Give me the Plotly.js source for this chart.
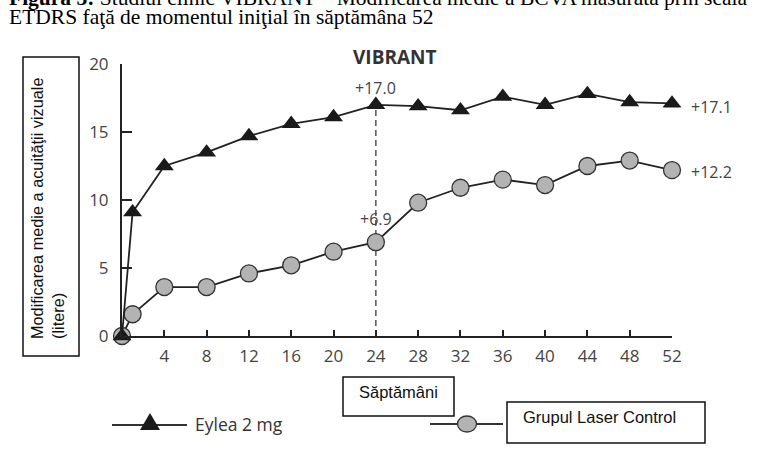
<!DOCTYPE html>
<html>
<head>
<meta charset="utf-8">
<script src="https://cdn.plot.ly/plotly-3.0.1.min.js"></script>
<style>html,body{margin:0;padding:0;background:#fff;}#chart{width:766px;height:471px;}</style>
</head>
<body>
<div id="chart"></div>
<script>
// ---- data ----
var weeks = [0, 1, 4, 8, 12, 16, 20, 24, 28, 32, 36, 40, 44, 48, 52];
var eylea = [0, 9.1, 12.5, 13.5, 14.7, 15.6, 16.1, 17.0, 16.9, 16.6, 17.6, 17.0, 17.8, 17.2, 17.1];
var laser = [0, 1.6, 3.6, 3.6, 4.6, 5.2, 6.2, 6.9, 9.8, 10.9, 11.5, 11.1, 12.5, 12.9, 12.2];
var xTicks = [4, 8, 12, 16, 20, 24, 28, 32, 36, 40, 44, 48, 52];
var yTicks = [0, 5, 10, 15, 20];
var seriesNames = ["Eylea 2 mg", "Grupul Laser Control"];
var chartTitle = "VIBRANT";
var yTitleLines = ["Modificarea medie a acuităţii vizuale", "(litere)"];
var xTitle = "Săptămâni";
var captionLine1 = "<b>Figura 3:</b> Studiul clinic VIBRANT – Modificarea medie a BCVA măsurată prin scala";
var captionLine2 = "ETDRS faţă de momentul iniţial în săptămâna 52";
var markWeek = 24;

// ---- helpers (pixel -> paper) ----
var W = 766, H = 471;
function px(x) { return x / W; }
function py(y) { return 1 - y / H; }

var boxFont = "Liberation Sans, Arial, sans-serif";
var sans = "Open Sans, Noto Sans, sans-serif";
var serif = "Liberation Serif, Times New Roman, serif";

var iE = weeks.indexOf(markWeek);
var last = weeks.length - 1;

var traces = [
  {
    x: weeks, y: laser, type: "scatter", mode: "lines+markers", name: seriesNames[1],
    line: {color: "#222", width: 1.8},
    marker: {symbol: "circle", size: 17, color: "#b3b3b3", line: {color: "#333", width: 1.3}},
    cliponaxis: false, showlegend: false
  },
  {
    x: weeks, y: eylea, type: "scatter", mode: "lines+markers", name: seriesNames[0],
    line: {color: "#222", width: 1.8},
    marker: {symbol: "triangle-up", size: 16.5, color: "#1a1a1a", line: {width: 0}},
    cliponaxis: false, showlegend: false
  }
];

var shapes = [
  {type: "line", xref: "x", yref: "y", x0: markWeek, x1: markWeek, y0: 0, y1: eylea[iE],
   line: {color: "#555", width: 1.5, dash: "6px,4px"}, layer: "below"},
  {type: "rect", xref: "paper", yref: "paper", x0: px(23), x1: px(79), y0: py(356), y1: py(57),
   line: {color: "#111", width: 1.5}},
  {type: "rect", xref: "paper", yref: "paper", x0: px(343), x1: px(454), y0: py(416), y1: py(377),
   line: {color: "#111", width: 1.5}},
  {type: "rect", xref: "paper", yref: "paper", x0: px(507), x1: px(705), y0: py(443), y1: py(402),
   line: {color: "#111", width: 1.5}},
  {type: "line", xref: "paper", yref: "paper", x0: px(112), x1: px(187), y0: py(425), y1: py(425),
   line: {color: "#333", width: 2}},
  {type: "line", xref: "paper", yref: "paper", x0: px(430), x1: px(503), y0: py(424), y1: py(424),
   line: {color: "#333", width: 2}},
  {type: "path", xref: "paper", yref: "paper",
   path: "M " + px(150) + "," + py(413) + " L " + px(160) + "," + py(430) + " L " + px(140) + "," + py(430) + " Z",
   fillcolor: "#1a1a1a", line: {width: 0}},
  {type: "circle", xref: "paper", yref: "paper", x0: px(457.5), x1: px(476.5), y0: py(432), y1: py(416),
   fillcolor: "#b3b3b3", line: {color: "#333", width: 1.3}}
];

var annotations = [
  {text: captionLine1, xref: "paper", yref: "paper", x: px(7), y: py(-1.5), xanchor: "left", yanchor: "middle",
   showarrow: false, font: {family: serif, size: 21.5, color: "#000"}},
  {text: captionLine2, xref: "paper", yref: "paper", x: px(7), y: py(17.5), xanchor: "left", yanchor: "middle",
   showarrow: false, font: {family: serif, size: 21.5, color: "#000"}},
  {text: "<b>" + chartTitle + "</b>", xref: "paper", yref: "paper", x: px(395), y: py(57), xanchor: "center", yanchor: "middle",
   showarrow: false, font: {family: sans, size: 19, color: "#333"}},
  {text: yTitleLines[0], xref: "paper", yref: "paper", x: px(37), y: py(341), xanchor: "center", yanchor: "bottom",
   textangle: -90, showarrow: false, font: {family: boxFont, size: 16.3, color: "#111"}},
  {text: yTitleLines[1], xref: "paper", yref: "paper", x: px(58), y: py(341), xanchor: "center", yanchor: "bottom",
   textangle: -90, showarrow: false, font: {family: boxFont, size: 16.3, color: "#111"}},
  {text: xTitle, xref: "paper", yref: "paper", x: px(398.5), y: py(392), xanchor: "center", yanchor: "middle",
   showarrow: false, font: {family: boxFont, size: 16.5, color: "#111"}},
  {text: seriesNames[1], xref: "paper", yref: "paper", x: px(521), y: py(417), xanchor: "left", yanchor: "middle",
   showarrow: false, font: {family: boxFont, size: 16.5, color: "#111"}},
  {text: seriesNames[0], xref: "paper", yref: "paper", x: px(193), y: py(424), xanchor: "left", yanchor: "middle",
   showarrow: false, font: {family: sans, size: 17.5, color: "#333"}},
  {text: "+" + eylea[iE].toFixed(1), xref: "x", yref: "y", x: weeks[iE], y: eylea[iE], yshift: 16.5,
   xanchor: "center", yanchor: "middle", showarrow: false, font: {family: sans, size: 16, color: "#444"}},
  {text: "+" + laser[iE].toFixed(1), xref: "x", yref: "y", x: weeks[iE], y: laser[iE], yshift: 23,
   xanchor: "center", yanchor: "middle", showarrow: false, font: {family: sans, size: 16, color: "#444"}},
  {text: "+" + eylea[last].toFixed(1), xref: "x", yref: "y", x: weeks[last], y: eylea[last], xshift: 17, yshift: -3.5,
   xanchor: "left", yanchor: "middle", showarrow: false, font: {family: sans, size: 16, color: "#444"}},
  {text: "+" + laser[last].toFixed(1), xref: "x", yref: "y", x: weeks[last], y: laser[last], xshift: 17, yshift: -1.5,
   xanchor: "left", yanchor: "middle", showarrow: false, font: {family: sans, size: 16, color: "#444"}}
];

var layout = {
  width: W, height: H,
  margin: {l: 0, r: 0, t: 0, b: 0},
  paper_bgcolor: "#fff", plot_bgcolor: "rgba(0,0,0,0)",
  showlegend: false,
  xaxis: {
    domain: [px(122), px(672)], range: [0, 52], tickmode: "array", tickvals: xTicks,
    ticks: "inside", ticklen: 6, tickwidth: 2, tickcolor: "#222",
    showline: true, linewidth: 2, linecolor: "#222", showgrid: false, zeroline: false,
    tickfont: {family: sans, size: 17, color: "#444"}, ticklabelstandoff: 4, fixedrange: true
  },
  yaxis: {
    domain: [py(336), py(64)], range: [0, 20], tickmode: "array", tickvals: yTicks,
    ticks: "inside", ticklen: 10, tickwidth: 2, tickcolor: "#222",
    showline: true, linewidth: 2, linecolor: "#222", showgrid: false, zeroline: false,
    tickfont: {family: sans, size: 17, color: "#444"}, ticklabelstandoff: 8, fixedrange: true
  },
  shapes: shapes,
  annotations: annotations
};

Plotly.newPlot("chart", traces, layout, {displayModeBar: false, staticPlot: true});
</script>
</body>
</html>
